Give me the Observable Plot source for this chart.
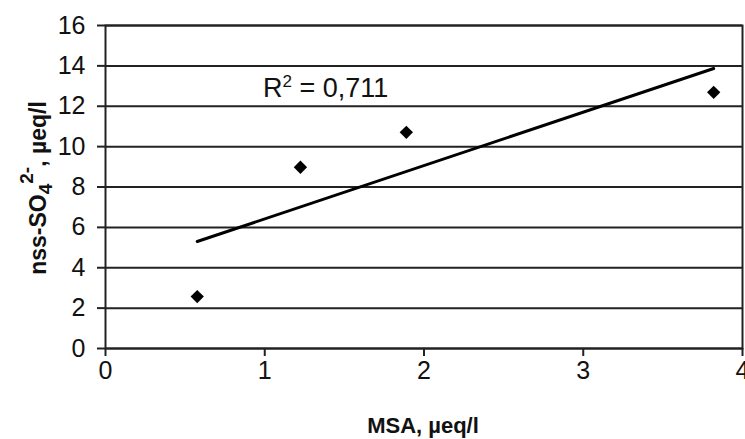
<!DOCTYPE html>
<html>
<head>
<meta charset="utf-8">
<script src="https://cdn.jsdelivr.net/npm/d3@7"></script>
<script src="https://cdn.jsdelivr.net/npm/@observablehq/plot@0.6"></script>
<style>
  html, body { margin: 0; padding: 0; background: #fff; }
  svg { display: block; }
</style>
</head>
<body>
<div id="chart"></div>
<script>
const msa = [0.576, 1.224, 1.889, 3.819];
const nss = [2.57, 8.98, 10.71, 12.69];
const xTicks = [0, 1, 2, 3, 4];
const yTicks = [0, 2, 4, 6, 8, 10, 12, 14, 16];
const r2Label = "0,711";
const xTitle = "MSA, \u00b5eq/l";

const data = msa.map((x, i) => ({x, y: nss[i]}));
const FONT = "'Liberation Sans Narrow', 'Liberation Sans', Arial, sans-serif";
const BFONT = "'Liberation Sans', Arial, sans-serif";

const chart = Plot.plot({
  width: 745,
  height: 439,
  marginLeft: 105,
  marginRight: 3,
  marginTop: 25,
  marginBottom: 91,
  style: {fontFamily: FONT, fontSize: "25px", color: "#111", background: "#fff"},
  x: {domain: [0, 4], ticks: xTicks, label: null},
  y: {domain: [0, 16], ticks: yTicks, label: null},
  marks: [
    Plot.ruleY(yTicks, {stroke: "#222", strokeWidth: 2}),
    Plot.frame({stroke: "#222", strokeWidth: 2}),
    Plot.axisY({ticks: yTicks, tickSize: 8, tickPadding: 12, stroke: "#222", strokeWidth: 2, label: null, tickFormat: d => String(d)}),
    Plot.axisX({ticks: xTicks, tickSize: 8, tickPadding: 5, stroke: "#222", strokeWidth: 2, label: null, tickFormat: d => String(d)}),
    Plot.linearRegressionY(data, {x: "x", y: "y", ci: 0, stroke: "#000", strokeWidth: 3}),
    Plot.dot(data, {x: "x", y: "y", symbol: "diamond2", r: 6, fill: "#000", stroke: "none"})
  ]
});

document.getElementById("chart").appendChild(chart);

const svg = d3.select(chart);

// R² annotation
const r2 = svg.append("text")
  .attr("x", 263).attr("y", 97)
  .attr("text-anchor", "start")
  .attr("font-family", FONT).attr("font-size", 27).attr("fill", "#111");
r2.append("tspan").text("R");
r2.append("tspan").attr("dy", -10).attr("font-size", 17).text("2");
r2.append("tspan").attr("dy", 10).text(" = " + r2Label);

// x axis title
svg.append("text")
  .attr("x", 423).attr("y", 433)
  .attr("text-anchor", "middle")
  .attr("font-family", BFONT).attr("font-size", 22).attr("font-weight", "bold").attr("fill", "#111")
  .text(xTitle);

// y axis title
const yt = svg.append("text")
  .attr("transform", "translate(46,188) rotate(-90)")
  .attr("text-anchor", "middle")
  .attr("font-family", BFONT).attr("font-size", 23).attr("font-weight", "bold").attr("fill", "#111");
yt.append("tspan").text("nss-SO");
yt.append("tspan").attr("dy", 6).attr("font-size", 19).text("4");
yt.append("tspan").attr("dy", -19).attr("font-size", 19).text("2-");
yt.append("tspan").attr("dy", 13).text(", \u00b5eq/l");
</script>
</body>
</html>
